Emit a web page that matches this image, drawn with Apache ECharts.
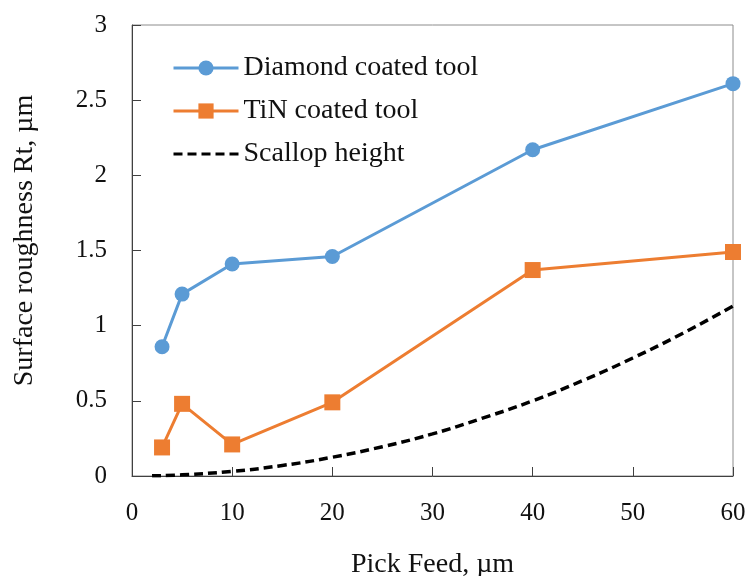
<!DOCTYPE html>
<html>
<head>
<meta charset="utf-8">
<script src="https://cdn.jsdelivr.net/npm/echarts@6/dist/echarts.min.js"></script>
<style>html,body{margin:0;padding:0;background:#fff}#c{width:750px;height:576px}</style>
</head>
<body>
<div id="c"></div>
<script>
const pickFeed = [3, 5, 10, 20, 40, 60];
const diamond = [0.86, 1.21, 1.41, 1.46, 2.17, 2.61];
const tin = [0.19, 0.48, 0.21, 0.49, 1.37, 1.49];
const scallopX = [2, 5, 10, 15, 20, 25, 30, 35, 40, 45, 50, 55, 60];
const scallopY = [0.001, 0.008, 0.031, 0.07, 0.125, 0.195, 0.28, 0.385, 0.5, 0.635, 0.785, 0.95, 1.13];
const seriesNames = ['Diamond coated tool', 'TiN coated tool', 'Scallop height'];

const font = 'Liberation Serif';
const chart = echarts.init(document.getElementById('c'));
chart.setOption({
  animation: false,
  grid: { left: 132, right: 17, top: 25, bottom: 100, outerBoundsMode: 'none', containLabel: false,
    show: true, borderColor: '#8c8c8c', borderWidth: 1 },
  legend: {
    orient: 'vertical', left: 167, top: 49, itemWidth: 65, itemHeight: 19, itemGap: 15,
    textStyle: { fontFamily: font, fontSize: 28, color: '#111' },
    lineStyle: { width: 3 },
    data: [
      { name: seriesNames[0] },
      { name: seriesNames[1] },
      { name: seriesNames[2], itemStyle: { opacity: 0 } }
    ]
  },
  xAxis: {
    type: 'value', min: 0, max: 60, interval: 10,
    name: 'Pick Feed, µm', nameLocation: 'middle', nameGap: 75,
    nameTextStyle: { fontFamily: font, fontSize: 28, color: '#111' },
    axisLine: { show: true, lineStyle: { color: '#404040', width: 1 } },
    axisTick: { show: true, inside: true, length: 9, lineStyle: { color: '#404040' } },
    axisLabel: { margin: 25, fontFamily: font, fontSize: 25, color: '#111' },
    splitLine: { show: false }
  },
  yAxis: {
    type: 'value', min: 0, max: 3, interval: 0.5,
    name: 'Surface roughness Rt, µm', nameLocation: 'middle', nameGap: 93,
    nameTextStyle: { fontFamily: font, fontSize: 28, color: '#111', padding: [0, 0, 0, 20] },
    axisLine: { show: true, lineStyle: { color: '#404040', width: 1 } },
    axisTick: { show: true, inside: true, length: 9, lineStyle: { color: '#404040' } },
    axisLabel: { margin: 25, fontFamily: font, fontSize: 25, color: '#111' },
    splitLine: { show: false }
  },
  series: [
    {
      name: seriesNames[0], type: 'line',
      data: pickFeed.map((x, i) => [x, diamond[i]]),
      symbol: 'circle', symbolSize: 15,
      lineStyle: { color: '#5B9BD5', width: 3 },
      itemStyle: { color: '#5B9BD5' }
    },
    {
      name: seriesNames[1], type: 'line',
      data: pickFeed.map((x, i) => [x, tin[i]]),
      symbol: 'rect', symbolSize: 16,
      lineStyle: { color: '#ED7D31', width: 3 },
      itemStyle: { color: '#ED7D31' }
    },
    {
      name: seriesNames[2], type: 'line',
      data: scallopX.map((x, i) => [x, scallopY[i]]),
      symbol: 'none', smooth: true,
      lineStyle: { color: '#000', width: 3.5, type: [9, 5] },
      itemStyle: { color: '#000' }
    }
  ]
});
</script>
</body>
</html>
